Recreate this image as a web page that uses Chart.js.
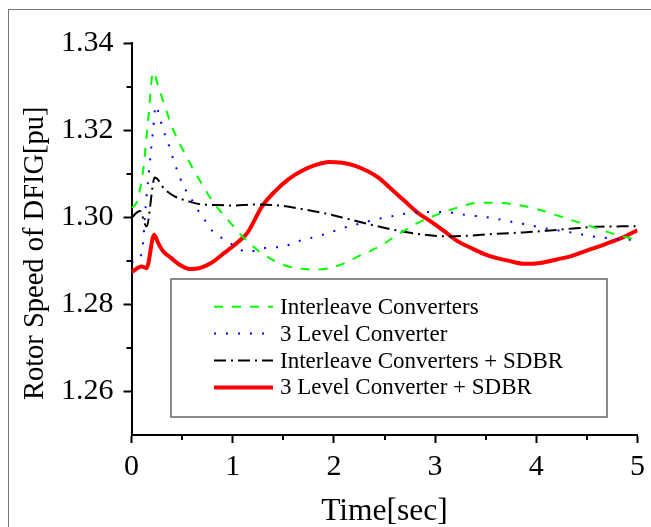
<!DOCTYPE html>
<html>
<head>
<meta charset="utf-8">
<script src="https://cdn.jsdelivr.net/npm/chart.js@4.4.1/dist/chart.umd.min.js"></script>
<style>
  html, body { margin: 0; padding: 0; background: #fff; }
  #wrap { position: relative; width: 651px; height: 527px; overflow: hidden; }
  #frame { position: absolute; left: 8px; top: 9px; width: 700px; height: 600px;
           border-left: 1px solid #777; border-top: 1px solid #777; }
  canvas { position: absolute; left: 0; top: 0; }
</style>
</head>
<body>
<div id="wrap">
  <div id="frame"></div>
  <canvas id="speedChart" width="651" height="527"></canvas>
</div>
<script>
const FONT = '"Liberation Serif", "Times New Roman", serif';

// tick values
const xTicks = [0, 1, 2, 3, 4, 5];
const xMinor = [0.5, 1.5, 2.5, 3.5, 4.5];
const yTicks = [1.26, 1.28, 1.30, 1.32, 1.34];
const yMinor = [1.27, 1.29, 1.31, 1.33];

const seriesNames = [
    'Interleave Converters',
    '3 Level Converter',
    'Interleave Converters + SDBR',
    '3 Level Converter + SDBR'
];

// Interleave Converters
const interleaveT = [0, 0.05, 0.116, 0.165, 0.214, 0.263, 0.328, 0.41, 0.557, 0.688, 0.80, 0.949, 1.096, 1.26, 1.456, 1.652, 1.848, 2.044, 2.24, 2.45, 2.63, 2.83, 3.02, 3.22, 3.42, 3.61, 3.79, 4.0, 4.18, 4.38, 4.58, 4.76, 5.0];
const interleaveV = [1.3022, 1.3034, 1.311, 1.3225, 1.3333, 1.3302, 1.3256, 1.3202, 1.3133, 1.3079, 1.3037, 1.2995, 1.2956, 1.2922, 1.2895, 1.2882, 1.288, 1.2889, 1.291, 1.2933, 1.296, 1.2987, 1.3006, 1.3022, 1.3033, 1.3033, 1.3029, 1.3019, 1.3006, 1.2991, 1.2976, 1.2962, 1.2948];

// 3 Level Converter
const threeLevelT = [0, 0.08, 0.1, 0.116, 0.13, 0.149, 0.181, 0.214, 0.24, 0.279, 0.312, 0.355, 0.426, 0.515, 0.58, 0.645, 0.72, 0.80, 0.917, 1.025, 1.145, 1.26, 1.375, 1.49, 1.60, 1.72, 1.83, 1.95, 2.06, 2.18, 2.30, 2.41, 2.53, 2.65, 2.76, 2.88, 3.0, 3.11, 3.22, 3.34, 3.45, 3.56, 3.68, 3.79, 3.91, 4.03, 4.15, 4.26, 4.37, 4.50, 4.61, 4.72, 4.84, 5.0];
const threeLevelV = [1.2897, 1.2905, 1.2918, 1.2945, 1.2995, 1.3048, 1.3125, 1.3202, 1.3256, 1.3229, 1.3202, 1.3175, 1.3124, 1.3071, 1.3046, 1.302, 1.2995, 1.2968, 1.2949, 1.2933, 1.292, 1.2926, 1.2931, 1.2931, 1.2942, 1.2949, 1.2956, 1.2964, 1.2973, 1.2981, 1.2988, 1.2995, 1.30, 1.3006, 1.301, 1.3012, 1.3012, 1.3012, 1.3008, 1.3004, 1.3002, 1.2998, 1.2993, 1.2988, 1.2983, 1.2977, 1.2972, 1.2968, 1.2964, 1.2958, 1.2954, 1.2952, 1.2949, 1.2948];

// Interleave Converters + SDBR
const interleaveSdbrT = [0, 0.083, 0.149, 0.23, 0.328, 0.426, 0.557, 0.70, 0.85, 1.01, 1.19, 1.456, 1.68, 1.91, 2.14, 2.40, 2.66, 2.89, 3.12, 3.35, 3.61, 3.87, 4.10, 4.36, 4.59, 4.85, 5.0];
const interleaveSdbrV = [1.2999, 1.3014, 1.2979, 1.3091, 1.3064, 1.3048, 1.3037, 1.3029, 1.3028, 1.3027, 1.3029, 1.3027, 1.3019, 1.3009, 1.2996, 1.2981, 1.2968, 1.296, 1.2956, 1.2958, 1.2962, 1.2965, 1.2969, 1.2974, 1.2978, 1.2979, 1.2979];

// 3 Level Converter + SDBR
const threeLevelSdbrT = [0, 0.1, 0.149, 0.224, 0.263, 0.312, 0.394, 0.475, 0.574, 0.672, 0.786, 0.917, 1.047, 1.145, 1.29, 1.42, 1.55, 1.68, 1.82, 1.95, 2.08, 2.21, 2.34, 2.44, 2.57, 2.70, 2.83, 2.96, 3.09, 3.22, 3.35, 3.48, 3.61, 3.71, 3.89, 4.04, 4.20, 4.36, 4.53, 4.69, 4.85, 5.0];
const threeLevelSdbrV = [1.2874, 1.2887, 1.2883, 1.296, 1.2941, 1.2922, 1.2906, 1.2891, 1.2881, 1.2883, 1.2895, 1.2918, 1.2942, 1.2964, 1.3025, 1.306, 1.3087, 1.3106, 1.312, 1.3127, 1.3125, 1.3118, 1.3105, 1.3091, 1.3064, 1.3037, 1.301, 1.299, 1.2968, 1.2945, 1.293, 1.2916, 1.2906, 1.2901, 1.2893, 1.2895, 1.2903, 1.2912, 1.2926, 1.2939, 1.2953, 1.297];


function toPoints(ts, vs) {
    return ts.map((t, i) => ({ x: t, y: vs[i] }));
}

// legend drawn as a framed box inside the plot
const legendBox = {
    id: 'legendBox',
    afterDatasetsDraw(chart) {
        const ctx = chart.ctx;
        ctx.save();
        ctx.fillStyle = '#fff';
        ctx.fillRect(171, 279, 436, 138);
        ctx.strokeStyle = '#666';
        ctx.lineWidth = 1.5;
        ctx.strokeRect(171, 279, 436, 138);
        ctx.font = '23px ' + FONT;
        ctx.textBaseline = 'middle';
        chart.data.datasets.forEach((ds, i) => {
            const y = 306.7 + i * 26.9;
            ctx.strokeStyle = ds.borderColor;
            ctx.lineWidth = ds.borderWidth;
            ctx.setLineDash(ds.borderDash || []);
            ctx.beginPath();
            ctx.moveTo(214, y);
            ctx.lineTo(273, y);
            ctx.stroke();
            ctx.setLineDash([]);
            ctx.fillStyle = '#000';
            ctx.fillText(ds.label, 280, y + 1);
        });
        ctx.restore();
    }
};

// short minor ticks between the labelled ones
const minorTicks = {
    id: 'minorTicks',
    afterDraw(chart) {
        const { ctx, chartArea } = chart;
        const x = chart.scales.x, y = chart.scales.y;
        ctx.save();
        ctx.strokeStyle = '#000';
        ctx.lineWidth = 2;
        ctx.beginPath();
        xMinor.forEach(v => {
            const px = Math.round(x.getPixelForValue(v));
            ctx.moveTo(px, chartArea.bottom);
            ctx.lineTo(px, chartArea.bottom + 5);
        });
        yMinor.forEach(v => {
            const py = Math.round(y.getPixelForValue(v));
            ctx.moveTo(chartArea.left, py);
            ctx.lineTo(chartArea.left - 5, py);
        });
        ctx.stroke();
        ctx.restore();
    }
};

const ctx = document.getElementById('speedChart');

new Chart(ctx, {
    type: 'line',
    data: {
        datasets: [{
            label: seriesNames[0],
            data: toPoints(interleaveT, interleaveV),
            borderColor: '#00ff00',
            borderWidth: 2,
            borderDash: [9, 9]
        }, {
            label: seriesNames[1],
            data: toPoints(threeLevelT, threeLevelV),
            borderColor: '#0000ff',
            borderWidth: 2,
            borderDash: [2, 10]
        }, {
            label: seriesNames[2],
            data: toPoints(interleaveSdbrT, interleaveSdbrV),
            borderColor: '#000000',
            borderWidth: 2,
            borderDash: [12, 5, 2, 5]
        }, {
            label: seriesNames[3],
            data: toPoints(threeLevelSdbrT, threeLevelSdbrV),
            borderColor: '#ff0000',
            borderWidth: 4
        }]
    },
    options: {
        responsive: false,
        animation: false,
        devicePixelRatio: 1,
        layout: { padding: { left: 10, right: 9.5, top: 43, bottom: 0 } },
        elements: {
            point: { radius: 0 },
            line: { cubicInterpolationMode: 'monotone', fill: false }
        },
        plugins: {
            legend: { display: false },
            tooltip: { enabled: false }
        },
        scales: {
            x: {
                type: 'linear',
                min: 0,
                max: 5,
                afterBuildTicks: s => { s.ticks = xTicks.map(v => ({ value: v })); },
                afterFit: s => { s.height = 92; },
                grid: { drawOnChartArea: false, tickLength: 8, tickColor: '#000', tickWidth: 2 },
                border: { color: '#000', width: 2 },
                ticks: { color: '#000', font: { family: FONT, size: 30 }, padding: 6, maxRotation: 0 },
                title: { display: true, text: 'Time[sec]', color: '#000',
                         font: { family: FONT, size: 31.5, lineHeight: 1 }, padding: { top: 0, bottom: 0 } }
            },
            y: {
                min: 1.25,
                max: 1.34,
                afterBuildTicks: s => { s.ticks = yTicks.map(v => ({ value: v })); },
                afterFit: s => { s.width = 121.5; },
                grid: { drawOnChartArea: false, tickLength: 8, tickColor: '#000', tickWidth: 2 },
                border: { color: '#000', width: 2 },
                ticks: { color: '#000', font: { family: FONT, size: 30 }, padding: 10,
                         callback: v => v.toFixed(2) },
                title: { display: true, text: 'Rotor Speed of DFIG[pu]    ', color: '#000',
                         font: { family: FONT, size: 28.5 }, padding: { top: 8, bottom: 0 } }
            }
        }
    },
    plugins: [legendBox, minorTicks]
});
</script>
</body>
</html>
